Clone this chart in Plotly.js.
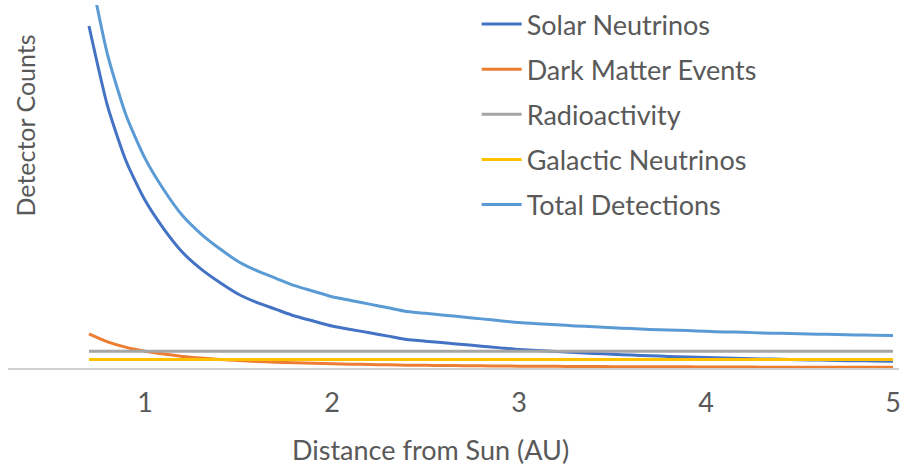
<!DOCTYPE html>
<html>
<head>
<meta charset="utf-8">
<script src="https://cdn.plot.ly/plotly-3.0.1.min.js"></script>
<style>html,body{margin:0;padding:0;background:#fff;overflow:hidden;width:907px;height:468px;}#chart{position:absolute;left:0;top:-5px;width:907px;height:473px;}</style>
</head>
<body>
<div id="chart"></div>
<script>
var distanceAU = [0.7,0.8,0.9,1.0,1.1,1.2,1.3,1.4,1.5,1.6,1.7,1.8,1.9,2.0,2.1,2.2,2.3,2.4,2.5,2.6,2.7,2.8,2.9,3.0,3.1,3.2,3.3,3.4,3.5,3.6,3.7,3.8,3.9,4.0,4.1,4.2,4.3,4.4,4.5,4.6,4.7,4.8,4.9,5.0];
var solarNeutrinos = [204,156,123,100,83,69,59,51,44,39,35,31,28,25,23,21,19,17,16,15,14,13,12,11,10.4,9.8,9.2,8.7,8.2,7.7,7.3,6.9,6.6,6.3,5.9,5.7,5.4,5.2,4.9,4.7,4.5,4.3,4.2,4.0];
var darkMatterEvents = [20.4,15.6,12.3,10,8.3,6.9,5.9,5.1,4.4,3.9,3.5,3.1,2.8,2.5,2.3,2.1,1.9,1.7,1.6,1.5,1.4,1.3,1.2,1.1,1.0,1.0,0.9,0.9,0.8,0.8,0.7,0.7,0.7,0.6,0.6,0.6,0.5,0.5,0.5,0.5,0.5,0.4,0.4,0.4];
var radioactivity = [10,10,10,10,10,10,10,10,10,10,10,10,10,10,10,10,10,10,10,10,10,10,10,10,10,10,10,10,10,10,10,10,10,10,10,10,10,10,10,10,10,10,10,10];
var galacticNeutrinos = [5,5,5,5,5,5,5,5,5,5,5,5,5,5,5,5,5,5,5,5,5,5,5,5,5,5,5,5,5,5,5,5,5,5,5,5,5,5,5,5,5,5,5,5];
var totalDetections = [239.4,186.6,150.3,125,106.3,90.9,79.9,71.1,63.4,57.9,53.5,49.1,45.8,42.5,40.3,38.1,35.9,33.7,32.6,31.5,30.4,29.3,28.2,27.1,26.4,25.8,25.1,24.6,24.0,23.5,23.0,22.6,22.3,21.9,21.5,21.3,20.9,20.7,20.4,20.2,20.0,19.7,19.6,19.4];
var xTickValues = [1,2,3,4,5];
var seriesNames = ["Solar Neutrinos","Dark Matter Events","Radioactivity","Galactic Neutrinos","Total Detections"];
var seriesColors = ["#4472C4","#ED7D31","#A5A5A5","#FFC000","#5B9BD5"];
var seriesValues = [solarNeutrinos, darkMatterEvents, radioactivity, galacticNeutrinos, totalDetections];

var FONT = "Lato, 'Open Sans', sans-serif";
var FS = 27;
var traces = seriesValues.map(function(vals, i){
  return {
    type: "scatter", mode: "lines",
    x: distanceAU, y: vals, name: seriesNames[i],
    legendgroup: "g" + i,
    line: {color: seriesColors[i], width: 3, shape: "spline", smoothing: 0.6},
    hoverinfo: "x+y+name"
  };
});

var layout = {
  width: 907, height: 473,
  margin: {l: 8, r: 8, t: 5, b: 100, pad: 0},
  paper_bgcolor: "#ffffff", plot_bgcolor: "#ffffff",
  font: {family: FONT, size: FS, color: "#595959"},
  showlegend: true,
  legend: {
    x: 0.526, xanchor: "left", y: 1 + 5 / 368, yanchor: "top",
    traceorder: "grouped", tracegroupgap: 7,
    itemwidth: 40,
    font: {family: FONT, size: FS, color: "#595959"},
    bgcolor: "rgba(0,0,0,0)"
  },
  xaxis: {
    range: [0.267, 5.032],
    tickmode: "array", tickvals: xTickValues, ticktext: xTickValues.map(String),
    ticks: "", showgrid: false, zeroline: false,
    showline: true, linecolor: "#D0D0D0", linewidth: 1.5,
    ticklabelstandoff: 10,
    tickfont: {family: FONT, size: FS, color: "#595959"},
    automargin: false
  },
  yaxis: {
    range: [0, 216.5],
    showticklabels: false, ticks: "", showgrid: false, zeroline: false, showline: false,
    automargin: false
  },
  annotations: [{
    text: "Detector Counts", xref: "paper", yref: "paper",
    x: 0.018, y: 0.668, xanchor: "center", yanchor: "middle",
    textangle: -90, showarrow: false,
    font: {family: FONT, size: 25, color: "#595959"}
  }, {
    text: "Distance from Sun (AU)", xref: "paper", yref: "paper",
    x: (430 - 8) / 891, y: -(451 - 368) / 368, xanchor: "center", yanchor: "middle",
    showarrow: false,
    font: {family: FONT, size: FS, color: "#595959"}
  }]
};

Plotly.newPlot("chart", traces, layout, {staticPlot: true, displayModeBar: false});
</script>
</body>
</html>
